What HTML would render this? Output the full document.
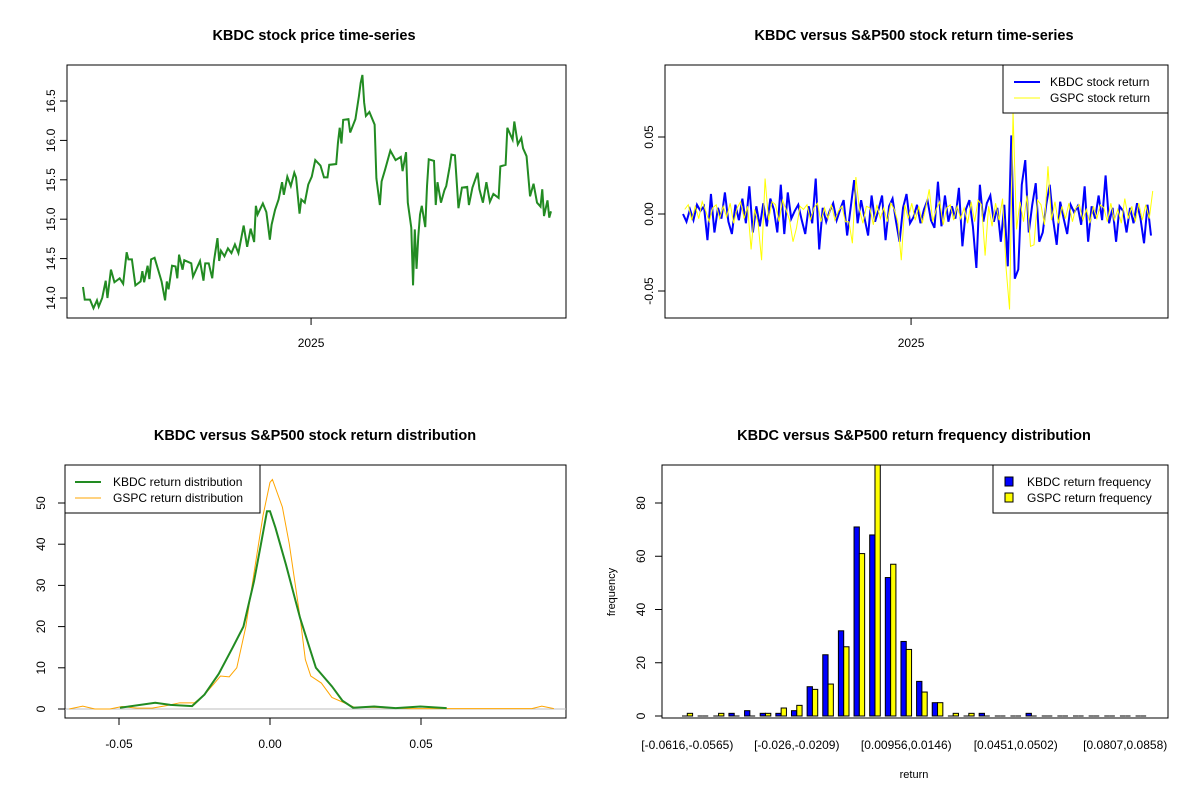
<!DOCTYPE html>
<html><head><meta charset="utf-8"><style>
body{margin:0;background:#fff;}
svg{display:block;font-family:"Liberation Sans",Arial,sans-serif;}
.t{font-weight:bold;font-size:14.5px;text-anchor:middle;}
</style></head><body>
<svg id="s" width="1200" height="800" viewBox="0 0 1200 800">
<rect width="1200" height="800" fill="#fff"/>
<text class="t" x="314" y="40">KBDC stock price time-series</text>
<text class="t" x="914" y="40">KBDC versus S&amp;P500 stock return time-series</text>
<text class="t" x="315" y="440">KBDC versus S&amp;P500 stock return distribution</text>
<text class="t" x="914" y="440">KBDC versus S&amp;P500 return frequency distribution</text>
<g id="g"></g>
</svg>
<script>
// ---- data ----
const priceDays=[0,1,4,6,8,9,11,13,14,16,18,21,23,25,26,28,30,33,34,35,37,38,39,41,43,45,47,48,49,51,53,54,55,57,58,62,63,67,69,70,72,74,75,77,78,79,81,83,85,87,89,92,94,96,98,99,100,103,105,107,108,110,112,114,115,117,119,121,122,124,125,127,129,131,133,136,138,140,141,145,146,147,148,149,152,153,156,158,159,160,161,162,164,167,168,170,171,173,176,179,182,183,185,186,188,189,190,191,192,193,194,196,197,198,201,202,203,205,207,208,210,211,213,215,217,220,221,223,226,227,229,231,233,235,238,239,242,243,246,247,249,251,252,254,256,258,260,262,263,264,266,267,268];
const priceValues=[14.14,13.98,13.98,13.87,13.97,13.89,14.0,14.22,14.0,14.36,14.2,14.25,14.18,14.58,14.49,14.49,14.16,14.21,14.34,14.2,14.41,14.24,14.49,14.51,14.36,14.21,13.97,14.21,14.11,14.41,14.40,14.25,14.55,14.36,14.48,14.44,14.27,14.47,14.22,14.44,14.44,14.25,14.47,14.76,14.47,14.60,14.53,14.63,14.57,14.68,14.57,14.92,14.65,14.88,14.71,15.17,15.06,15.20,15.09,14.74,14.93,15.12,15.25,15.47,15.31,15.54,15.42,15.59,15.53,15.07,15.25,15.21,15.44,15.54,15.75,15.68,15.53,15.53,15.69,15.70,15.97,16.16,15.96,16.26,16.27,16.10,16.27,16.56,16.73,16.83,16.48,16.31,16.36,16.20,15.52,15.18,15.48,15.63,15.87,15.75,15.79,15.61,15.85,15.21,14.89,14.16,14.87,14.37,14.78,15.06,15.17,14.90,15.42,15.76,15.74,15.18,15.47,15.21,15.37,15.42,15.67,15.82,15.81,15.14,15.40,15.41,15.18,15.40,15.59,15.38,15.21,15.47,15.22,15.32,15.27,15.67,15.69,16.16,16.01,16.24,15.95,16.03,15.90,15.80,15.29,15.45,15.21,15.16,15.38,15.04,15.24,15.02,15.10];
const priceTicks=[14,14.5,15,15.5,16,16.5];
const priceTickLabels=["14.0","14.5","15.0","15.5","16.0","16.5"];
const yearTickDay=130.6;
const kbdcReturns=[0,-5,3,-4,6,2,5,-17,13,-12,4,-3,14,-5,-13,6,-4,10,-6,18,-12,5,-8,7,-8,10,3,-12,19,-13,14,-3,2,6,-4,-13,5,-6,23,-23,4,-5,2,7,-4,3,9,-14,4,22,-6,9,-3,-14,12,-5,3,12,-17,5,10,-5,-18,4,13,-6,-2,6,-6,3,9,-4,-9,21,-8,12,-5,5,-3,17,-21,3,9,-8,-35,19,-5,7,12,-5,4,-18,6,-34,51,-42,-36,19,35,-12,6,20,-18,-12,6,19,-4,-20,8,-3,-13,6,1,5,-7,18,-18,5,-3,12,-4,25,-6,4,-18,5,2,-12,4,-6,7,-3,-19,6,-14];
const gspcReturns=[3,6,-4,5,-3,8,2,-5,4,6,-3,5,-2,7,-6,4,8,-3,5,-23,3,-6,-30,23,-4,8,6,-5,9,3,-4,-18,-9,5,3,6,-4,4,7,-5,4,-3,6,-4,2,5,-5,-5,-19,24,3,-6,5,4,-7,6,-3,4,-5,7,3,-5,-30,6,-3,7,-4,5,-6,4,16,-5,3,8,-7,4,6,-4,5,-3,4,-6,8,-5,9,6,-27,5,-8,7,-4,10,-35,-62,66,-10,8,-5,12,-21,-20,9,6,-7,31,-4,8,-6,5,-3,7,-5,4,6,-4,3,-6,5,-3,6,4,-5,7,-4,3,-6,10,-3,5,-5,7,-4,6,-3,15];
const returnScale=0.001, returnStepDays=2;
const returnTicks=[-0.05,0,0.05];
const returnTickLabels=["-0.05","0.00","0.05"];
const kbdcDensX=[-0.0497,-0.038,-0.033,-0.0258,-0.0217,-0.017,-0.0123,-0.0088,-0.0053,-0.003,-0.001,0,0.0018,0.0053,0.01,0.0152,0.0205,0.024,0.0275,0.0345,0.0416,0.0498,0.0585];
const kbdcDensY=[0.3,1.5,1.0,0.7,3.5,8.5,15,20,31,40,48,48,44,35,22,10,5.5,2,0.3,0.6,0.2,0.6,0.2];
const gspcDensX=[-0.0665,-0.062,-0.058,-0.053,-0.049,-0.044,-0.039,-0.0345,-0.0299,-0.025,-0.0217,-0.0187,-0.0164,-0.0135,-0.011,-0.008,-0.0053,-0.0023,0,0.0008,0.0041,0.0064,0.01,0.0117,0.0135,0.017,0.0205,0.0252,0.028,0.0345,0.046,0.0867,0.090,0.094];
const gspcDensY=[0,0.7,0,0,0.6,0.2,0.2,0.8,1.5,1.5,3.5,6,8,7.8,10,20,33,47,55,55.7,49,40,22,12,8,6.3,2.8,1.3,0.4,0.4,0.1,0.1,0.7,0.1];
const densTicksX=[-0.05,0,0.05], densTickLabelsX=["-0.05","0.00","0.05"];
const densTicksY=[0,10,20,30,40,50];
const histKbdc=[0,0,0,1,2,1,1,2,11,23,32,71,68,52,28,13,5,0,0,1,0,0,1,0,0,0,0,0,0,0];
const histGspc=[1,0,1,0,0,1,3,4,10,12,26,61,95,57,25,9,5,1,1,0,0,0,0,0,0,0,0,0,0,0];
const histLabels=["[-0.0616,-0.0565)","[-0.026,-0.0209)","[0.00956,0.0146)","[0.0451,0.0502)","[0.0807,0.0858)"];
const histLabelGroups=[0,7,14,21,28];
const histTicks=[0,20,40,60,80];

// ---- drawing ----
const NS="http://www.w3.org/2000/svg", G=document.getElementById('g');
function mk(tag,attrs,parent){const e=document.createElementNS(NS,tag);for(const k in attrs)e.setAttribute(k,attrs[k]);(parent||G).appendChild(e);return e;}
function txt(x,y,s,size,anchor,rot){const e=mk('text',{x:x,y:y,'font-size':size||12,'text-anchor':anchor||'middle'});if(rot)e.setAttribute('transform','rotate(-90 '+x+' '+y+')');e.textContent=s;return e;}
function box(x0,y0,x1,y1){return mk('rect',{x:x0,y:y0,width:x1-x0,height:y1-y0,fill:'none',stroke:'#000','stroke-width':1});}

// Panel 1: price
const px=d=>83+d*(468/268), py=v=>298-(v-14)*78.8;
let b=box(67,65,566,318);


priceTicks.forEach((v,i)=>{mk('line',{x1:60,x2:67,y1:py(v),y2:py(v),stroke:'#000'});let t=txt(55,py(v),priceTickLabels[i],12,'middle',true);

});
mk('line',{x1:67,x2:67,y1:py(14),y2:py(16.5),stroke:'#000'});
mk('line',{x1:px(yearTickDay),x2:px(yearTickDay),y1:318,y2:325,stroke:'#000'});
let yt=txt(px(yearTickDay),347,'2025');


let pl=mk('polyline',{points:priceDays.map((d,i)=>px(d)+','+py(priceValues[i])).join(' '),fill:'none',stroke:'#228b22','stroke-width':2});



// Panel 2: returns
const rx=d=>683+d*(468/268), ry=r=>214-r*1540;
b=box(665,65,1168,318);


returnTicks.forEach((v,i)=>{mk('line',{x1:658,x2:665,y1:ry(v),y2:ry(v),stroke:'#000'});let t=txt(653,ry(v),returnTickLabels[i],12,'middle',true);

});
mk('line',{x1:665,x2:665,y1:ry(-0.05),y2:ry(0.05),stroke:'#000'});
mk('line',{x1:rx(yearTickDay),x2:rx(yearTickDay),y1:318,y2:325,stroke:'#000'});
yt=txt(rx(yearTickDay),347,'2025');


let kl=mk('polyline',{points:kbdcReturns.map((r,i)=>rx(i*returnStepDays)+','+ry(r*returnScale)).join(' '),fill:'none',stroke:'#0000ff','stroke-width':2});


let gl=mk('polyline',{points:gspcReturns.map((r,i)=>rx(i*returnStepDays+1)+','+ry(r*returnScale)).join(' '),fill:'none',stroke:'#ffff00','stroke-width':1});


let lg=mk('g',{});


mk('rect',{x:1003,y:65,width:165,height:48,fill:'#fff',stroke:'#000'},lg);
mk('line',{x1:1014,x2:1040,y1:82,y2:82,stroke:'#0000ff','stroke-width':2},lg);
mk('line',{x1:1014,x2:1040,y1:98,y2:98,stroke:'#ffff00','stroke-width':1},lg);
lg.appendChild(txt(1050,86,'KBDC stock return',12,'start'));
lg.appendChild(txt(1050,102,'GSPC stock return',12,'start'));

// Panel 3: density
const dx=r=>270+r*3020, dy=v=>709-v*4.12;
b=box(65,465,566,718);


mk('line',{x1:65,x2:566,y1:dy(0),y2:dy(0),stroke:'#bebebe'});
densTicksY.forEach(v=>{mk('line',{x1:58,x2:65,y1:dy(v),y2:dy(v),stroke:'#000'});let t=txt(45,dy(v),String(v),12,'middle',true);

});
mk('line',{x1:65,x2:65,y1:dy(0),y2:dy(50),stroke:'#000'});
mk('line',{x1:dx(-0.05),x2:dx(0.05),y1:718,y2:718,stroke:'#000'});
densTicksX.forEach((v,i)=>{mk('line',{x1:dx(v),x2:dx(v),y1:718,y2:725,stroke:'#000'});let t=txt(dx(v),748,densTickLabelsX[i]);

});
let gd=mk('polyline',{points:gspcDensX.map((x,i)=>dx(x)+','+dy(gspcDensY[i])).join(' '),fill:'none',stroke:'#ffa500','stroke-width':1});


let kd=mk('polyline',{points:kbdcDensX.map((x,i)=>dx(x)+','+dy(kbdcDensY[i])).join(' '),fill:'none',stroke:'#228b22','stroke-width':2});


lg=mk('g',{});


mk('rect',{x:65,y:465,width:195,height:48,fill:'#fff',stroke:'#000'},lg);
mk('line',{x1:75,x2:101,y1:482,y2:482,stroke:'#228b22','stroke-width':2},lg);
mk('line',{x1:75,x2:101,y1:498,y2:498,stroke:'#ffa500','stroke-width':1},lg);
lg.appendChild(txt(113,486,'KBDC return distribution',12,'start'));
lg.appendChild(txt(113,502,'GSPC return distribution',12,'start'));

// Panel 4: histogram
const gx=g=>682+g*15.64, hy=c=>Math.max(465,716-c*2.6625), bw=5.3;
b=box(662,465,1168,718);


histTicks.forEach(v=>{mk('line',{x1:655,x2:662,y1:716-v*2.6625,y2:716-v*2.6625,stroke:'#000'});let t=txt(645,716-v*2.6625,String(v),12,'middle',true);

});
mk('line',{x1:662,x2:662,y1:716,y2:716-80*2.6625,stroke:'#000'});
function bar(x,c,fill,name){
  let r;
  if(c===0){r=mk('line',{x1:x,x2:x+bw,y1:716,y2:716,stroke:'#000','stroke-width':1});}
  else{r=mk('rect',{x:x,y:hy(c),width:bw,height:716-hy(c),fill:fill,stroke:'#000','stroke-width':1});}
  
  
}
histKbdc.forEach((c,g)=>bar(gx(g),c,'#0000ff','kbdc-frequency-bar'));
histGspc.forEach((c,g)=>bar(gx(g)+bw,c,'#ffff00','gspc-frequency-bar'));
histLabels.forEach((s,i)=>{let t=txt(gx(histLabelGroups[i])+bw,749,s);

});
let at=txt(914,778,'return',11);


at=txt(615,592,'frequency',11,'middle',true);


lg=mk('g',{});


mk('rect',{x:993,y:465,width:175,height:48,fill:'#fff',stroke:'#000'},lg);
mk('rect',{x:1005,y:477,width:8,height:9,fill:'#0000ff',stroke:'#000'},lg);
mk('rect',{x:1005,y:493,width:8,height:9,fill:'#ffff00',stroke:'#000'},lg);
lg.appendChild(txt(1027,486,'KBDC return frequency',12,'start'));
lg.appendChild(txt(1027,502,'GSPC return frequency',12,'start'));
</script>
</body></html>
